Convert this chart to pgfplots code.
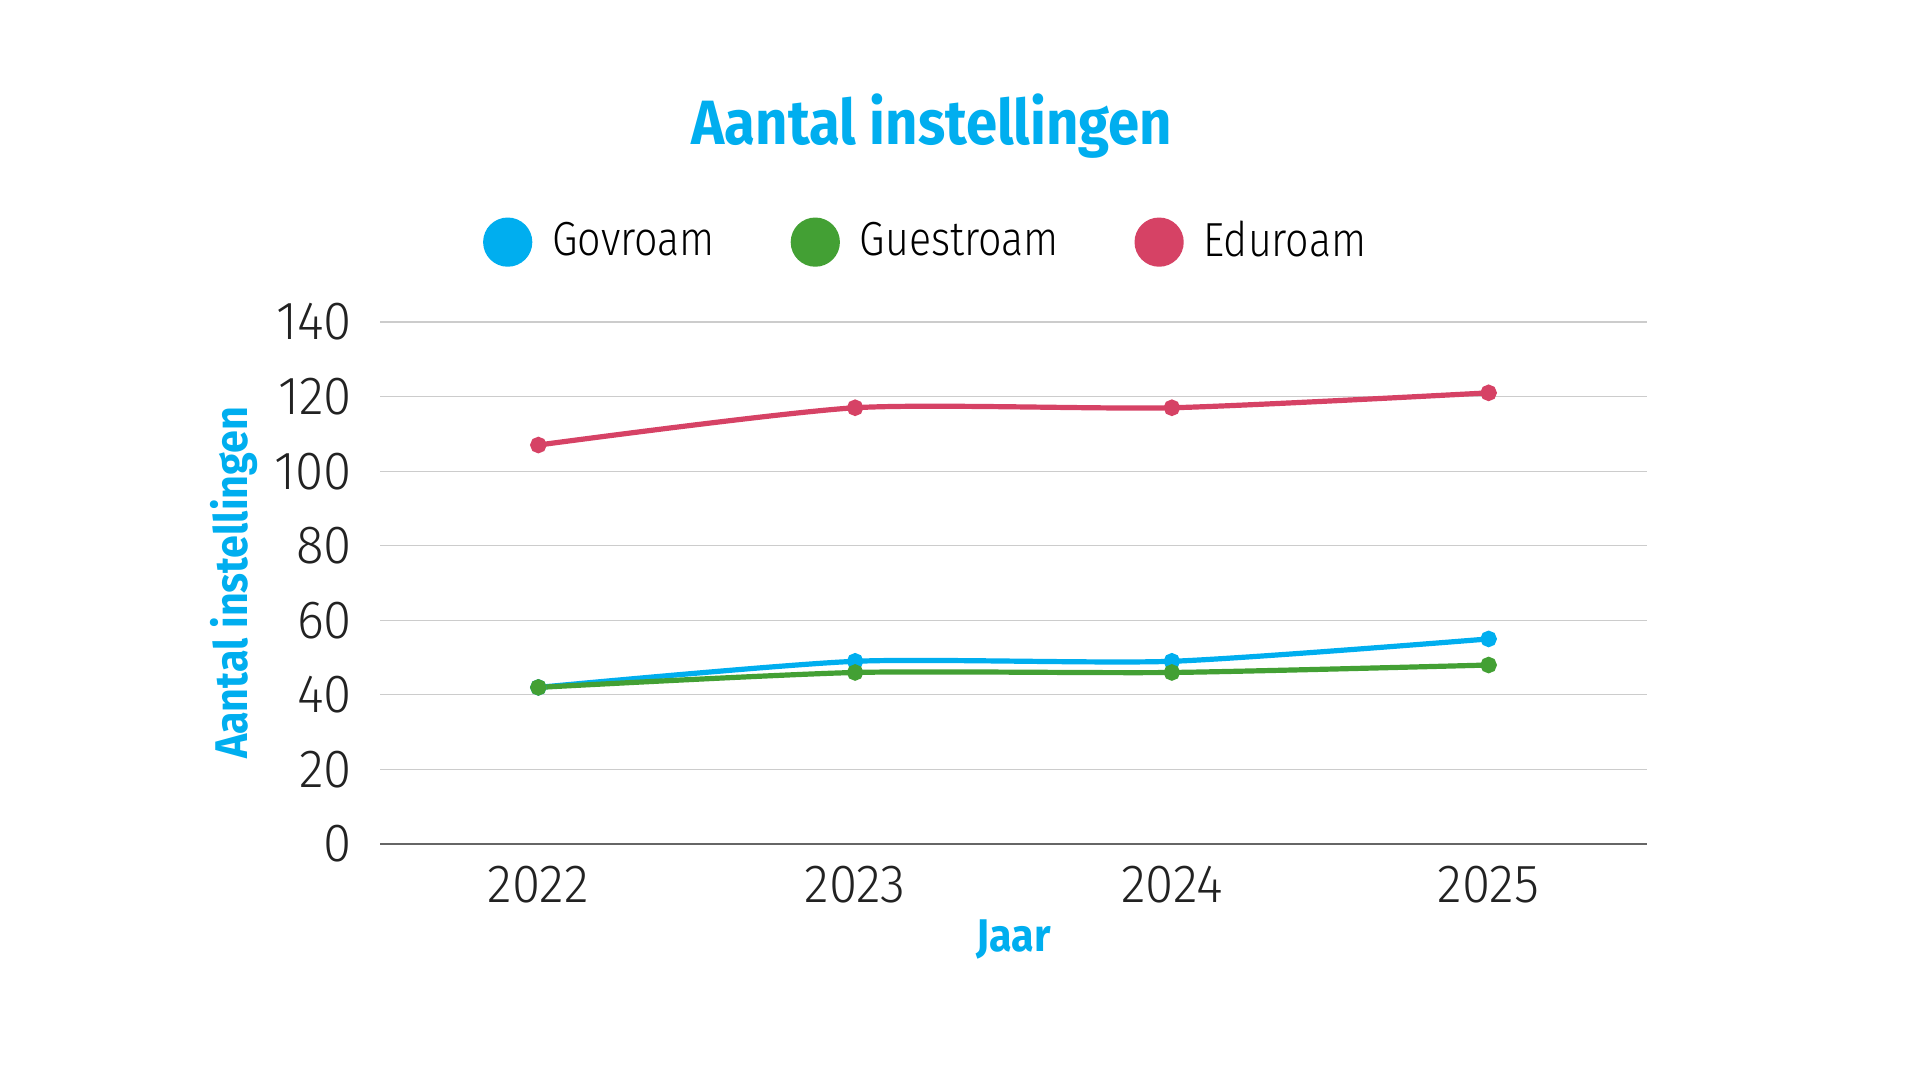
\documentclass[border=0pt]{standalone}
\usepackage{fontspec}
\setmainfont{Fira Sans}[UprightFont={* Light}, BoldFont={* Bold}, FakeStretch=0.86]
\newfontfamily\tickfont{Fira Sans}[UprightFont={* Light}, FakeStretch=0.95]
\newfontfamily\titlefont{Fira Sans}[UprightFont={* Bold}, FakeStretch=0.9]
\usepackage{pgfplots}
\pgfplotsset{compat=1.18}
\definecolor{cblue}{HTML}{00AEEF}
\definecolor{cgreen}{HTML}{43A034}
\definecolor{cred}{HTML}{D64265}
\definecolor{ctick}{HTML}{222222}
\begin{document}
\begin{tikzpicture}
\path[use as bounding box] (0,0) rectangle (480bp,270bp);
\node[font=\titlefont\fontsize{15.7}{18}\selectfont, text=cblue] at (233bp,238.5bp) {Aantal instellingen};
\begin{axis}[
  at={(95bp,59bp)}, anchor=south west,
  scale only axis, width=316.75bp, height=130.5bp,
  xmin=-0.5, xmax=3.5, ymin=0, ymax=140,
  xtick={0,1,2,3}, xticklabels={2022,2023,2024,2025},
  ytick={0,20,...,140},
  /pgf/number format/assume math mode=true,
  ticklabel style={font=\tickfont\fontsize{13.5}{15}\selectfont, text=ctick},
  yticklabel style={xshift=-3.5bp},
  xticklabel style={yshift=-2bp},
  major tick length=0pt,
  axis x line*=bottom, axis y line*=left,
  y axis line style={draw=none},
  x axis line style={draw=gray!80!black, line width=0.5bp, -},
  ymajorgrids, grid style={draw=black!20, line width=0.3bp},
  xlabel={Jaar}, ylabel={Aantal instellingen},
  label style={font=\titlefont\fontsize{11.5}{13}\selectfont, text=cblue},
  xlabel style={at={(0.5,-0.182)}, anchor=center},
  ylabel style={at={(-0.115,0.5)}, anchor=center},
  legend columns=3,
  legend style={draw=none, at={(0.433,1.153)}, anchor=center,
    font=\fontsize{12}{14}\selectfont,
    /tikz/every even column/.append style={column sep=17bp}},
  legend image code/.code={\fill[#1] (0,0) circle (5.5bp); \path (8.5bp,0);},
  every axis plot/.append style={smooth, tension=0.4, line width=1.3bp, mark=*, mark size=1.4bp},
  clip=false,
]
\addplot[color=cblue, mark options={fill=cblue}] coordinates {(0,42) (1,49) (2,49) (3,55)};
\addlegendentry{Govroam}
\addplot[color=cgreen, mark options={fill=cgreen}] coordinates {(0,42) (1,46) (2,46) (3,48)};
\addlegendentry{Guestroam}
\addplot[color=cred, mark options={fill=cred}] coordinates {(0,107) (1,117) (2,117) (3,121)};
\addlegendentry{Eduroam}
\end{axis}
\end{tikzpicture}
\end{document}
